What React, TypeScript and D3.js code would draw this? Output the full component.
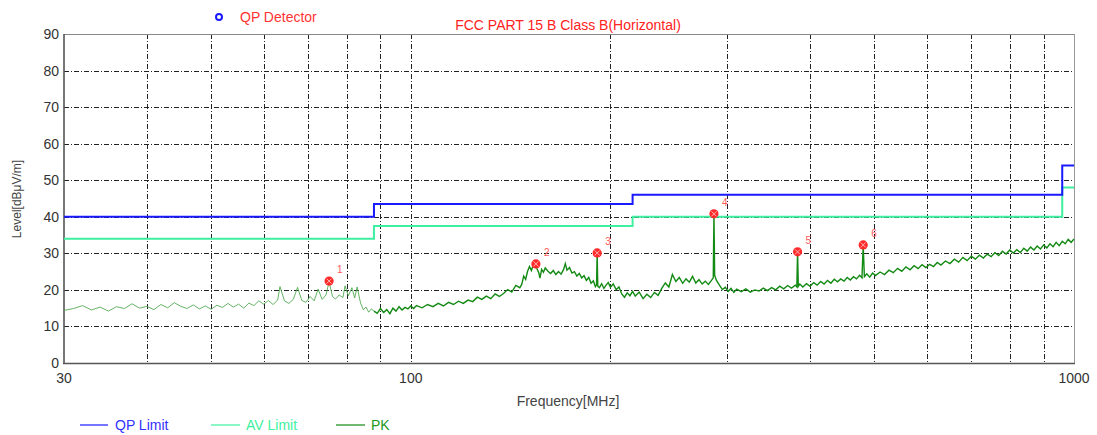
import React from "react";
import { scaleLog, scaleLinear, line, curveStepAfter, curveLinear } from "d3";

// limit lines (FCC Part 15 Class B, 3 m)
const limitFreq = [30, 88, 216, 960, 1000];
const qpLimit = [40, 43.5, 46, 54, 54];
const avLimit = [34, 37.5, 40, 48, 48];

// PK trace: [MHz, dBuV/m]
const pkLow: [number, number][] = [
  [30, 14.4], [31, 14.9], [32, 15.7], [33, 14.5], [34, 15.3], [35, 14.2], [36, 15.4], [37, 14.9],
  [38, 16.2], [39, 15.0], [40, 15.5], [41, 14.6], [42, 16.0], [43, 15.1], [44, 16.5], [45, 15.5],
  [46, 14.9], [47, 15.9], [48, 14.8], [49, 15.6], [50, 14.7], [51, 15.8], [52, 15.2], [53, 16.3],
  [54, 15.3], [55, 16.1], [56, 15.0], [57, 16.4], [58, 15.7], [59, 17.0], [60, 16.1], [61, 17.1],
  [62, 16.0], [63, 17.2], [63.5, 20.9], [64.5, 17.0], [65.5, 16.3], [66.5, 17.4], [67.5, 20.7],
  [68.5, 17.1], [69.5, 16.6], [70.5, 18.2], [71.5, 17.0], [72.5, 20.2], [73.5, 17.4], [74.5, 18.6],
  [75.3, 22.2], [76.2, 18.2], [77, 17.5], [78, 18.6], [79, 17.9], [79.6, 21.1], [80.5, 18.4],
  [81.5, 20.6], [82.3, 17.8], [83, 20.8], [84, 16.4], [84.8, 14.6], [85.6, 15.3], [86.4, 13.9],
  [87.2, 14.8], [88, 14.2],
];

const pkMid: [number, number][] = [
  [89, 13.6], [90, 14.9], [91, 13.8], [92, 14.6], [93, 13.5], [94, 15.0], [95, 14.2], [96, 15.4],
  [97, 14.5], [98, 15.2], [99, 14.8], [100, 15.6], [101, 14.9], [102, 15.7], [104, 15.1], [106, 16.0],
  [108, 15.4], [110, 16.3], [112, 15.6], [114, 16.6], [116, 16.0], [118, 16.9], [120, 16.3],
  [122, 17.2], [124, 16.8], [126, 18.0], [128, 17.4], [130, 18.3], [132, 17.6], [134, 18.9],
  [136, 18.2], [138, 19.0], [140, 20.1], [142, 19.4], [144, 21.2], [146, 20.6], [147, 21.5],
  [148, 23.8], [149, 22.9], [150, 25.1], [151, 26.4], [152, 25.3], [153, 26.9], [154, 26.2],
  [154.5, 27.0], [155, 25.8], [156, 24.6], [156.6, 23.2], [157.5, 25.6], [158.5, 24.8], [159.5, 26.0],
  [161, 25.1], [162.5, 24.5], [164, 25.3], [165.5, 24.2], [167, 25.0], [168.5, 24.3], [170, 25.6],
  [171, 27.2], [172, 25.4], [173.5, 26.1], [175, 24.6], [176.5, 25.0], [178, 23.8], [179.5, 24.5],
  [181, 23.3], [182.5, 23.9], [184, 22.6], [185.5, 23.4], [187, 21.8], [188.5, 22.5], [189.8, 20.9],
  [190.6, 21.4], [191, 30.1], [191.4, 21.0], [192.5, 20.6], [194, 21.7], [195.5, 20.4], [197, 21.3],
  [198.5, 22.0], [200, 20.7], [202, 21.6], [204, 20.1], [206, 20.8], [208, 18.9], [210, 18.0],
  [212, 19.2], [214, 18.4], [216, 19.6],
];

const pkHigh: [number, number][] = [
  [218, 18.3], [221, 19.4], [224, 17.6], [227, 18.8], [230, 17.9], [233, 19.3], [236, 18.5],
  [239, 20.4], [242, 21.9], [245, 20.8], [248, 24.2], [251, 22.3], [254, 23.4], [257, 21.8],
  [260, 23.0], [263, 22.1], [266, 23.7], [269, 21.9], [272, 22.8], [275, 21.6], [278, 22.4],
  [281, 21.5], [284, 22.6], [285.8, 23.3], [286.5, 40.8], [287.2, 24.0], [289, 22.6], [292, 21.3],
  [295, 20.1], [298, 20.7], [301, 19.6], [304, 20.4], [307, 19.3], [310, 20.2], [315, 19.5],
  [320, 20.3], [325, 19.4], [330, 20.0], [335, 19.7], [340, 20.5], [345, 19.8], [350, 20.6],
  [355, 20.0], [360, 21.0], [365, 20.3], [370, 21.2], [375, 20.5], [380, 21.3], [382, 20.8],
  [383, 30.4], [384, 21.0], [386, 21.6], [390, 20.8], [395, 21.7], [400, 21.0], [405, 22.0],
  [410, 21.3], [415, 22.3], [420, 21.6], [425, 22.6], [430, 21.8], [435, 22.9], [440, 22.2],
  [445, 23.0], [450, 22.4], [455, 23.4], [460, 22.7], [465, 23.6], [470, 23.0], [475, 24.0],
  [479, 23.3], [481, 32.3], [483, 23.6], [487, 24.4], [492, 23.5], [497, 24.6], [502, 23.9],
  [510, 24.9], [518, 24.2], [526, 25.4], [534, 24.7], [542, 25.9], [550, 25.1], [558, 26.3],
  [566, 25.5], [574, 26.6], [582, 25.8], [590, 26.9], [598, 26.1], [606, 27.0], [614, 26.4],
  [622, 27.5], [630, 26.8], [640, 27.9], [650, 27.2], [660, 28.4], [670, 27.6], [680, 28.9],
  [690, 28.0], [700, 29.2], [710, 28.4], [720, 29.5], [730, 28.7], [740, 29.8], [750, 29.1],
  [760, 30.2], [770, 29.4], [780, 30.6], [790, 29.8], [800, 30.9], [810, 30.1], [820, 31.0],
  [830, 30.2], [840, 31.4], [850, 30.6], [860, 31.7], [870, 30.9], [880, 32.0], [890, 31.2],
  [900, 32.3], [910, 31.5], [920, 32.6], [930, 31.8], [940, 33.0], [950, 32.1], [960, 33.3],
  [970, 32.6], [980, 33.8], [990, 33.0], [1000, 33.9],
];

// QP detector markers
const markerFreq = [75.3, 154.4, 191.0, 286.5, 383.0, 481.0];
const markerLevel = [22.4, 27.1, 30.1, 40.8, 30.4, 32.3];
const markerLabel = ["1", "2", "3", "4", "5", "6"];

const xGrid = [40, 50, 60, 70, 80, 90, 100, 200, 300, 400, 500, 600, 700, 800, 900];
const xTickLabels = [30, 100, 1000];
const yTicks = [0, 10, 20, 30, 40, 50, 60, 70, 80, 90];

const FONT = "'Liberation Sans', Arial, sans-serif";

export default function App() {
  const W = 1097, H = 435;
  const x = scaleLog().domain([30, 1000]).range([64, 1074]);
  const y = scaleLinear().domain([0, 90]).range([363, 34]);

  const limitPts = (vals: number[]) => limitFreq.map((f, i) => [f, vals[i]] as [number, number]);
  const stepLine = line<[number, number]>().x(d => x(d[0])).y(d => y(d[1])).curve(curveStepAfter);
  const traceLine = line<[number, number]>().x(d => x(d[0])).y(d => y(d[1])).curve(curveLinear);
  const pkRest = [pkLow[pkLow.length - 1], ...pkMid, ...pkHigh];

  const gridStyle = { stroke: "#222", strokeWidth: 1, strokeDasharray: "5,2,1,2" };

  return (
    <div style={{ position: "absolute", left: 0, top: 0 }}>
      <svg width={W} height={H} style={{ display: "block", background: "#fff" }} fontFamily={FONT}>
        {/* grid */}
        {xGrid.map(v => (
          <line key={"gx" + v} x1={Math.round(x(v)) + 0.5} x2={Math.round(x(v)) + 0.5} y1={34} y2={363} {...gridStyle} />
        ))}
        {yTicks.filter(v => v > 0 && v < 90).map(v => (
          <line key={"gy" + v} x1={64} x2={1074} y1={Math.round(y(v)) + 0.5} y2={Math.round(y(v)) + 0.5} {...gridStyle} />
        ))}

        {/* frame */}
        <line x1={64} x2={1074} y1={34.5} y2={34.5} stroke="#888" strokeWidth={1} />
        <line x1={1074.5} x2={1074.5} y1={34} y2={363} stroke="#999" strokeWidth={1} />
        <line x1={64} x2={64} y1={34} y2={364} stroke="#555" strokeWidth={1.6} />
        <line x1={63} x2={1075} y1={363.5} y2={363.5} stroke="#555" strokeWidth={1.6} />

        {/* limits */}
        <path d={stepLine(limitPts(avLimit)) || ""} fill="none" stroke="#3ef0a0" strokeWidth={2} />
        <path d={stepLine(limitPts(qpLimit)) || ""} fill="none" stroke="#1a1aff" strokeWidth={2} />

        {/* PK trace */}
        <path d={traceLine(pkLow) || ""} fill="none" stroke="#4aa64a" strokeWidth={1} opacity={0.85} />
        <path d={traceLine(pkRest) || ""} fill="none" stroke="#138a13" strokeWidth={1.4} />

        {/* markers */}
        {markerFreq.map((f, i) => {
          const cx = x(f), cy = y(markerLevel[i]);
          return (
            <g key={"m" + i}>
              <circle cx={cx} cy={cy} r={4.6} fill="#ff2a2a" />
              <path d={`M${cx - 2.5},${cy - 2.5}L${cx + 2.5},${cy + 2.5}M${cx + 2.5},${cy - 2.5}L${cx - 2.5},${cy + 2.5}`}
                stroke="#ffb0b0" strokeWidth={1} />
              <text x={cx + 8} y={cy - 8} fontSize={10} fill="#ff5a5a">{markerLabel[i]}</text>
            </g>
          );
        })}

        {/* y ticks */}
        {yTicks.map(v => (
          <text key={"yl" + v} x={59} y={y(v) + 5} fontSize={14} fill="#333" textAnchor="end">{v}</text>
        ))}
        {/* x tick labels */}
        {xTickLabels.map(v => (
          <text key={"xl" + v} x={x(v)} y={383} fontSize={14} fill="#333" textAnchor="middle">{v}</text>
        ))}

        {/* axis titles */}
        <text x={568} y={406} fontSize={14} fill="#444" textAnchor="middle">Frequency[MHz]</text>
        <text transform="translate(21,199) rotate(-90)" fontSize={12} fill="#444" textAnchor="middle">Level[dBμV/m]</text>

        {/* title and detector legend */}
        <text x={568} y={30} fontSize={14} fill="#ff2222" textAnchor="middle">FCC PART 15 B Class B(Horizontal)</text>
        <circle cx={219} cy={17} r={3} fill="none" stroke="#1a1aff" strokeWidth={2} />
        <text x={240} y={21.5} fontSize={14} fill="#ff3333">QP Detector</text>

        {/* bottom legend */}
        <line x1={80} x2={108} y1={425} y2={425} stroke="#1a1aff" strokeWidth={1.2} />
        <text x={115} y={430} fontSize={14} fill="#3333ff">QP Limit</text>
        <line x1={211} x2={240} y1={425} y2={425} stroke="#3ef0a0" strokeWidth={1.2} />
        <text x={246} y={430} fontSize={14} fill="#3ef0a0">AV Limit</text>
        <line x1={336} x2={365} y1={425} y2={425} stroke="#138a13" strokeWidth={1.2} />
        <text x={371} y={430} fontSize={14} fill="#229922">PK</text>
      </svg>
    </div>
  );
}
